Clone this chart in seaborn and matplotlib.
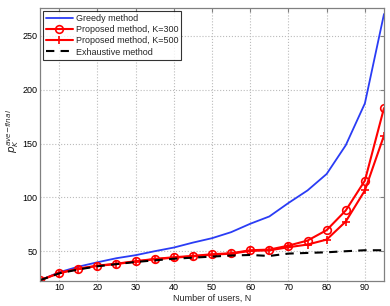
import numpy as np
import pandas as pd
import matplotlib
matplotlib.use('Agg')
import matplotlib.pyplot as plt
import seaborn as sns

# Number of users
users = [5, 10, 15, 20, 25, 30, 35, 40, 45, 50, 55, 60, 65, 70, 75, 80, 85, 90, 95]

# Values
greedy = [23, 30.4, 35.6, 39.7, 43.5, 46.3, 50, 53.4, 58, 62.1, 67.7, 75.5, 82.3, 94.8, 106.5, 121.8, 148.5, 187.4, 270.4]
k300 = [23, 29.8, 33.8, 36.6, 38.4, 40.7, 42.8, 44.4, 45.6, 47.2, 48.1, 50.9, 51.5, 55.2, 59.9, 69.6, 87.9, 115.6, 183]
k500 = [23, 29.6, 33.5, 36.3, 38.1, 40.4, 42.5, 44.0, 45.2, 46.8, 47.7, 50.3, 50.8, 53.7, 56.2, 60.8, 77.6, 106.5, 157.5]
exhaustive = [23, 29.4, 33, 36, 38, 40, 41.5, 43, 44, 45, 46, 46.5, 45.6, 47.8, 48.4, 49, 50, 50.9, 50.9]

yticks = [50, 100, 150, 200, 250]
xticks = [10, 20, 30, 40, 50, 60, 70, 80, 90]

sns.set_style("white")
plt.rcParams['font.family'] = ['Liberation Sans', 'DejaVu Sans']

fig = plt.figure(figsize=(3.9, 3.06), dpi=100)
ax = fig.add_axes([40 / 390, 1 - 280.7 / 306, 344 / 390, 272.7 / 306])

sns.lineplot(x=users, y=greedy, ax=ax, color='#2a3cf5', linewidth=1.3,
             label='Greedy method')
sns.lineplot(x=users, y=k300, ax=ax, color='#ff0000', linewidth=1.5,
             marker='o', markersize=5.5, markerfacecolor='none',
             markeredgecolor='#ff0000', markeredgewidth=1.2,
             label='Proposed method, K=300')
sns.lineplot(x=users, y=k500, ax=ax, color='#ff0000', linewidth=1.5,
             marker='+', markersize=6, markeredgecolor='#ff0000',
             markeredgewidth=1.2, label='Proposed method, K=500')
sns.lineplot(x=users, y=exhaustive, ax=ax, color='black', linewidth=1.5,
             linestyle=(0, (4, 3)), label='Exhaustive method')

ax.set_xlim(5, 95)
ax.set_ylim(22.6, 276)
ax.set_xticks(xticks)
ax.set_yticks(yticks)
ax.tick_params(direction='in', labelsize=6.5, length=3, pad=2,
               colors='#808080', labelcolor='black',
               top=True, right=True)
ax.grid(True, linestyle=':', color='#bbbbbb', linewidth=0.8)

for s in ax.spines.values():
    s.set_color('#808080')
    s.set_linewidth(0.9)

ax.set_xlabel('Number of users, N', fontsize=6.5, labelpad=1)
ax.set_ylabel(r'$p_K^{ave\mathrm{-}final}$', fontsize=7.5)
ax.yaxis.set_label_coords(-0.055, 0.55)

leg = ax.legend(loc='upper left', fontsize=6.5, frameon=True, fancybox=False,
                edgecolor='black', handlelength=3, borderpad=0.35,
                labelspacing=0.25, borderaxespad=0.3, handletextpad=0.3)
leg.get_frame().set_linewidth(0.8)

fig.savefig('out.png', dpi=100)
